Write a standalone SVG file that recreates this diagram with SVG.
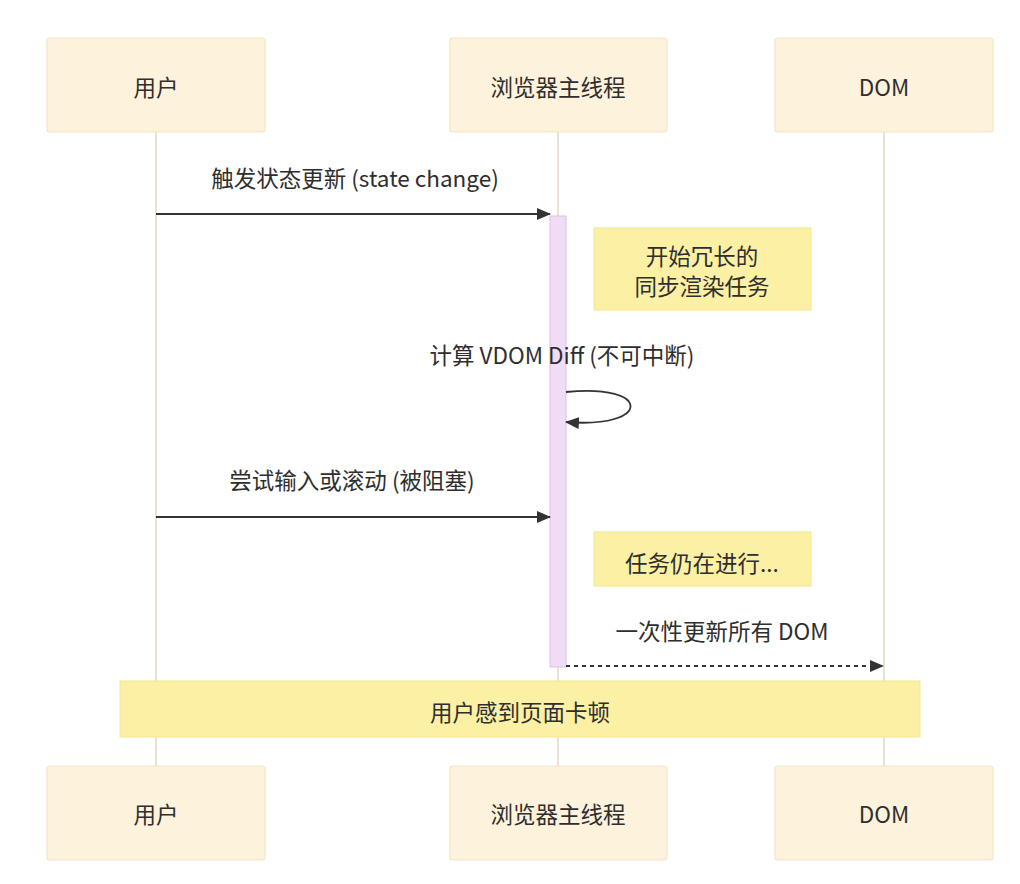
<svg xmlns="http://www.w3.org/2000/svg" width="1020" height="884" viewBox="0 0 1020 884">
  <style>
    text { font-family: "Noto Sans CJK SC", "Noto Sans", sans-serif; font-size: 22.5px; fill: #2e2e2e; text-anchor: middle; dominant-baseline: central; }
    .actor { fill: #fdf3dd; stroke: #f3e4c4; stroke-width: 1.2; }
    .life { stroke: #e3d9c4; stroke-width: 1.5; fill: none; }
    .note { fill: #fbf0a4; stroke: #f5e690; stroke-width: 1; }
    .msg { stroke: #333333; stroke-width: 1.8; fill: none; }
    .dash { stroke-dasharray: 4 4; }
    .act { fill: #f1dcf6; stroke: #dcc2e3; stroke-width: 1; }
  </style>
  <defs>
    <marker id="arrow" markerWidth="14" markerHeight="12" refX="13" refY="6" orient="auto" markerUnits="userSpaceOnUse">
      <path d="M0,0 L14,6 L0,12 Z" fill="#333333"/>
    </marker>
  </defs>
  <rect width="1020" height="884" fill="#ffffff"/>

  <!-- lifelines -->
  <g id="lifelines">
    <line class="life" x1="156" y1="132" x2="156" y2="766"/>
    <line class="life" x1="558" y1="132" x2="558" y2="766"/>
    <line class="life" x1="884" y1="132" x2="884" y2="766"/>
  </g>

  <!-- actors, top -->
  <g id="actor-user-top">
    <rect class="actor" x="47" y="38" width="218" height="94" rx="3"/>
    <text x="156" y="86">用户</text>
  </g>
  <g id="actor-main-top">
    <rect class="actor" x="450" y="38" width="217" height="94" rx="3"/>
    <text x="558" y="86">浏览器主线程</text>
  </g>
  <g id="actor-dom-top">
    <rect class="actor" x="775" y="38" width="218" height="94" rx="3"/>
    <text x="884" y="86">DOM</text>
  </g>

  <!-- activation of main thread -->
  <g id="activation">
    <rect class="act" x="550" y="216" width="16" height="451"/>
  </g>

  <!-- notes -->
  <g id="note-start">
    <rect class="note" x="594" y="228" width="217" height="82"/>
    <text x="702" y="255">开始冗长的</text>
    <text x="702" y="285">同步渲染任务</text>
  </g>
  <g id="note-running">
    <rect class="note" x="594" y="532" width="217" height="54"/>
    <text x="702" y="562">任务仍在进行...</text>
  </g>
  <g id="note-jank">
    <rect class="note" x="120" y="681" width="800" height="56"/>
    <text x="520" y="711">用户感到页面卡顿</text>
  </g>

  <!-- messages -->
  <g id="connectors">
    <line class="msg" x1="156" y1="214" x2="550" y2="214" marker-end="url(#arrow)"/>
    <text x="355" y="177">触发状态更新 (state change)</text>

    <path class="msg" d="M566,392 C652,383 652,429 566,422" marker-end="url(#arrow)"/>
    <text x="562" y="354">计算 VDOM Diff (不可中断)</text>

    <line class="msg" x1="156" y1="517" x2="550" y2="517" marker-end="url(#arrow)"/>
    <text x="352" y="479">尝试输入或滚动 (被阻塞)</text>

    <line class="msg dash" x1="566" y1="666" x2="883" y2="666" marker-end="url(#arrow)"/>
    <text x="722" y="630">一次性更新所有 DOM</text>
  </g>

  <!-- actors, bottom -->
  <g id="actor-user-bottom">
    <rect class="actor" x="47" y="766" width="218" height="94" rx="3"/>
    <text x="156" y="813">用户</text>
  </g>
  <g id="actor-main-bottom">
    <rect class="actor" x="450" y="766" width="217" height="94" rx="3"/>
    <text x="558" y="813">浏览器主线程</text>
  </g>
  <g id="actor-dom-bottom">
    <rect class="actor" x="775" y="766" width="218" height="94" rx="3"/>
    <text x="884" y="813">DOM</text>
  </g>
</svg>
